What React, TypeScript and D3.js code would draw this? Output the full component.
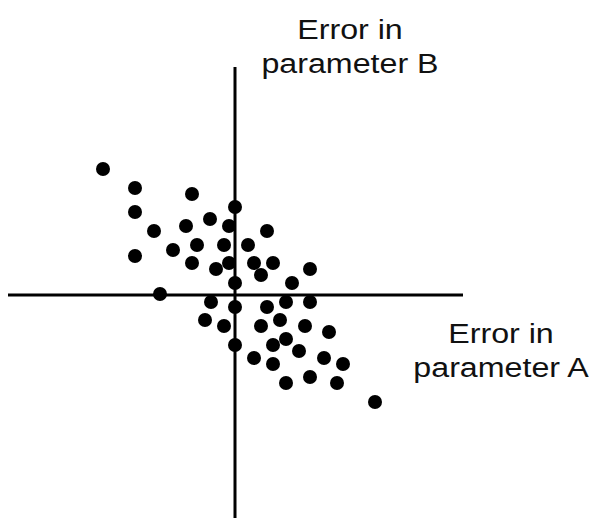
import * as d3 from "d3";

// errors in parameter A (x) and parameter B (y), arbitrary units
const errorA = [
  -13.2, -10.0, -4.3, -10.0, 0, -2.5, -8.1, -4.9, -0.6, 3.2, -6.2, -3.8, -1.1, 1.3,
  -10.0, -4.3, -1.9, -0.6, 1.9, 3.8, 2.6, 7.5, 0, 5.7, -7.5, -2.4, 0, 3.2, 5.1, 7.5,
  -3.0, -1.1, 2.6, 4.5, 7.0, 9.4, 0, 3.8, 5.1, 6.4, 1.9, 3.8, 8.9, 10.8, 5.1, 7.5,
  10.2, 14.0,
];
const errorB = [
  12.6, 10.7, 10.1, 8.3, 8.8, 7.6, 6.4, 6.9, 6.9, 6.4, 4.5, 5.0, 5.0, 5.0, 3.9, 3.2,
  2.6, 3.2, 3.2, 3.2, 2.0, 2.6, 1.2, 1.2, 0.1, -0.7, -1.2, -1.2, -0.7, -0.7, -2.5,
  -3.1, -3.1, -2.5, -3.1, -3.7, -5.0, -5.0, -4.4, -5.6, -6.3, -6.9, -6.3, -6.9, -8.8,
  -8.2, -8.8, -10.7,
];
const labelB = ["Error in", "parameter B"];
const labelA = ["Error in", "parameter A"];

const width = 589;
const height = 518;

export default function App() {
  const x = d3.scaleLinear().domain([-22.7, 22.8]).range([8, 463]);
  const y = d3.scaleLinear().domain([22.8, -22.3]).range([67, 518]);
  const points = errorA.map((a, i) => ({ a, b: errorB[i] }));
  const font = '"Liberation Sans", Arial, sans-serif';

  // the labels in the original are a bit wider than plain Arial
  const label = (lines: string[], cx: number, y0: number) => (
    <text
      transform={`translate(${cx},0) scale(1.15,1)`}
      fontFamily={font}
      fontSize={28}
      textAnchor="middle"
      fill="#111"
    >
      {lines.map((t, i) => (
        <tspan key={i} x={0} y={y0 + i * 34}>
          {t}
        </tspan>
      ))}
    </text>
  );

  return (
    <svg
      width={width}
      height={height}
      style={{ position: "absolute", left: 0, top: 0, background: "#fff" }}
    >
      <line x1={x(0)} x2={x(0)} y1={y(22.8)} y2={y(-22.3)} stroke="#000" strokeWidth={3} />
      <line x1={x(-22.7)} x2={x(22.8)} y1={y(0)} y2={y(0)} stroke="#000" strokeWidth={3} />
      {points.map((p, i) => (
        <circle key={i} cx={x(p.a)} cy={y(p.b)} r={7} fill="#000" />
      ))}
      {label(labelB, 350, 39)}
      {label(labelA, 501, 343)}
    </svg>
  );
}
